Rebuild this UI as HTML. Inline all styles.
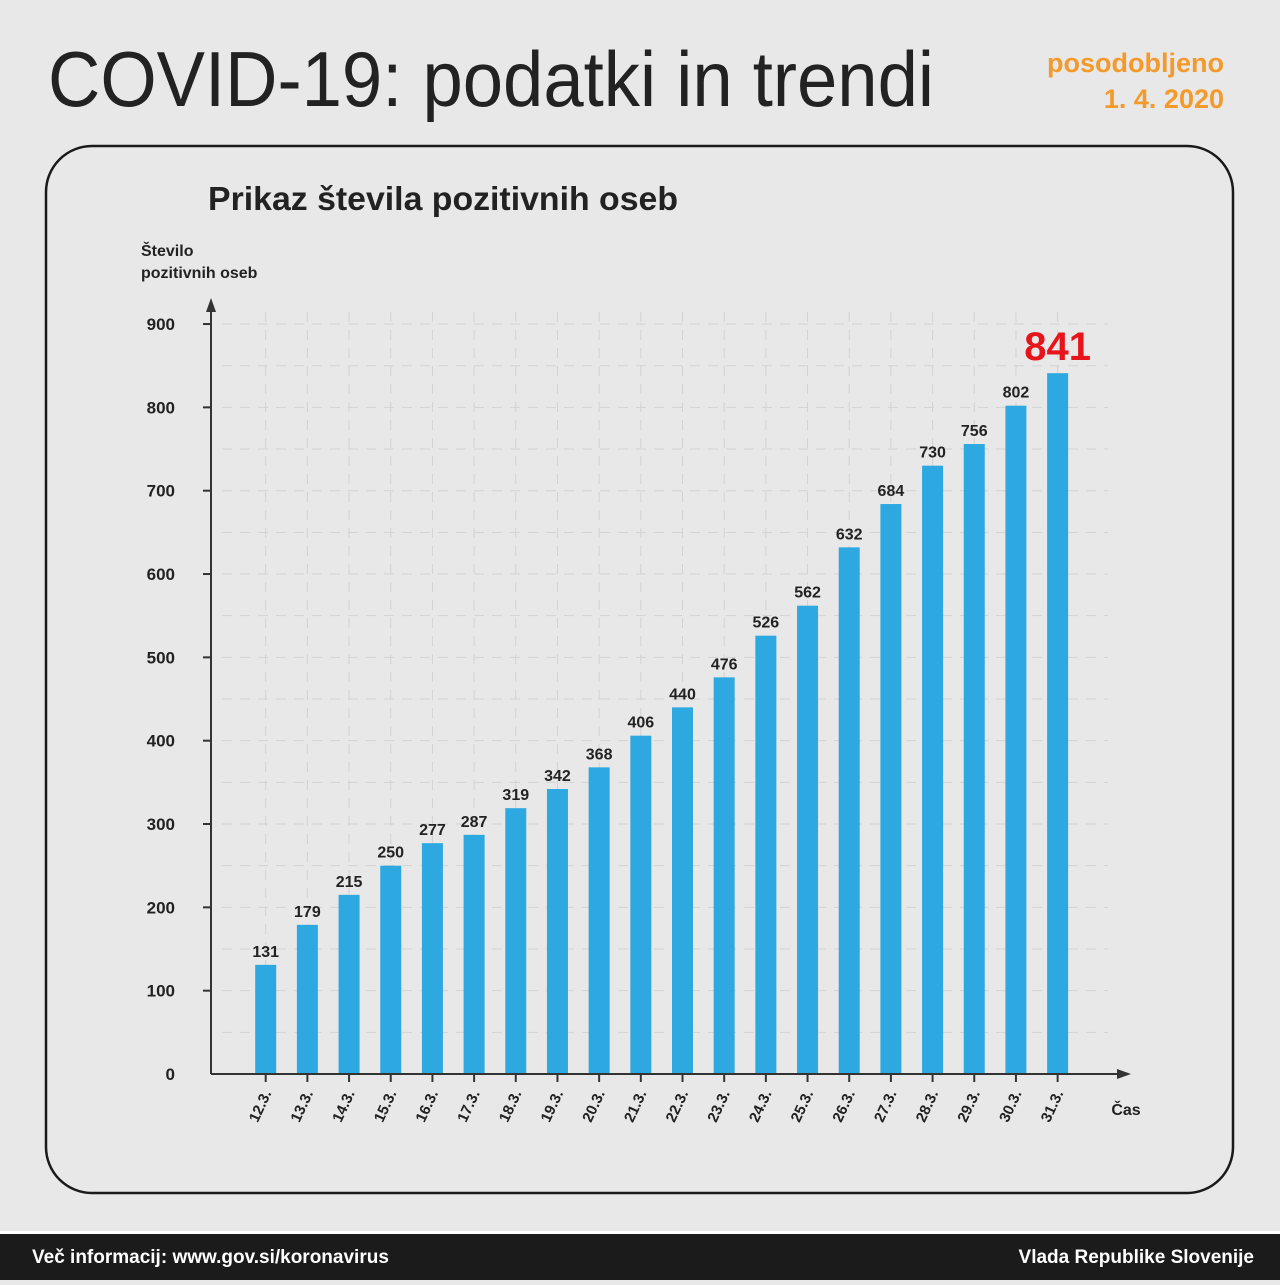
<!DOCTYPE html>
<html><head><meta charset="utf-8"><style>
body{margin:0;width:1280px;height:1280px;background:#e8e8e8;font-family:"Liberation Sans",sans-serif;overflow:hidden}
</style></head><body>
<svg width="1280" height="1280" xmlns="http://www.w3.org/2000/svg" font-family="Liberation Sans, sans-serif">
<rect width="1280" height="1280" fill="#e8e8e8"/>
<text x="48" y="106" font-size="78" fill="#222" textLength="886" lengthAdjust="spacingAndGlyphs">COVID-19: podatki in trendi</text>
<text x="1224" y="72" font-size="27" font-weight="bold" fill="#f39a2b" text-anchor="end">posodobljeno</text>
<text x="1224" y="108" font-size="27" font-weight="bold" fill="#f39a2b" text-anchor="end">1. 4. 2020</text>
<rect x="46" y="146" width="1187" height="1047" rx="46" fill="none" stroke="#1a1a1a" stroke-width="2.5"/>
<text x="208" y="210" font-size="33" font-weight="bold" fill="#222" textLength="470" lengthAdjust="spacingAndGlyphs">Prikaz števila pozitivnih oseb</text>
<text x="141" y="256" font-size="16" font-weight="bold" fill="#222">Število</text>
<text x="141" y="278" font-size="16" font-weight="bold" fill="#222">pozitivnih oseb</text>
<g id="grid" stroke="#d2d2d2" stroke-width="1" stroke-dasharray="10,8"></g>
<g id="bars"></g>
<line x1="211" y1="1074" x2="211" y2="306" stroke="#333" stroke-width="2"/>
<polygon points="211,298 206,312 216,312" fill="#333"/>
<line x1="211" y1="1074" x2="1122" y2="1074" stroke="#333" stroke-width="2"/>
<polygon points="1131,1074 1117,1069 1117,1079" fill="#333"/>
<g id="axes"></g>
<text x="1126" y="1115" font-size="16" font-weight="bold" fill="#222" text-anchor="middle">Čas</text>
<rect x="0" y="1231" width="1280" height="3" fill="#fff"/>
<rect x="0" y="1234" width="1280" height="46" fill="#1b1b1b"/>
<text x="32" y="1263" font-size="19" font-weight="bold" fill="#fff">Več informacij: www.gov.si/koronavirus</text>
<text x="1254" y="1263" font-size="19" font-weight="bold" fill="#fff" text-anchor="end">Vlada Republike Slovenije</text>
</svg>
<script>
const ns="http://www.w3.org/2000/svg";
const vals=[131,179,215,250,277,287,319,342,368,406,440,476,526,562,632,684,730,756,802,841];
const g=document.getElementById('grid'),b=document.getElementById('bars'),a=document.getElementById('axes');
function el(p,t,at,txt){const e=document.createElementNS(ns,t);for(const k in at)e.setAttribute(k,at[k]);if(txt!==undefined)e.textContent=txt;p.appendChild(e);return e;}
const Y=v=>1074-v*0.8333;
for(let v=50;v<=900;v+=50){el(g,'line',{x1:222,x2:1108,y1:Y(v),y2:Y(v)});}
for(let v=0;v<=900;v+=100){
 if(v>0)el(a,'line',{x1:203,x2:211,y1:Y(v),y2:Y(v),stroke:'#333','stroke-width':2});
 el(a,'text',{x:175,y:Y(v)+6,'font-size':17,'font-weight':'bold',fill:'#222','text-anchor':'end'},v);
}
vals.forEach((v,i)=>{
 const c=265.7+41.68*i;
 el(g,'line',{x1:c,x2:c,y1:312,y2:1070});
 el(b,'rect',{x:c-10.5,y:Y(v),width:21,height:v*0.8333,fill:'#2ea8e0'});
 if(i<19)el(b,'text',{x:c,y:Y(v)-8,'font-size':16,'font-weight':'bold',fill:'#222','text-anchor':'middle'},v);
 else el(b,'text',{x:c,y:Y(v)-13,'font-size':40,'font-weight':'bold',fill:'#e8141b','text-anchor':'middle'},v);
 el(a,'line',{x1:c,x2:c,y1:1074,y2:1082,stroke:'#333','stroke-width':2});
 el(a,'text',{x:c+6,y:1093,'font-size':15,'font-weight':'bold',fill:'#222','text-anchor':'end',transform:`rotate(-65 ${c+6} 1093)`},(12+i)+'.3.');
});
</script>
</body></html>
